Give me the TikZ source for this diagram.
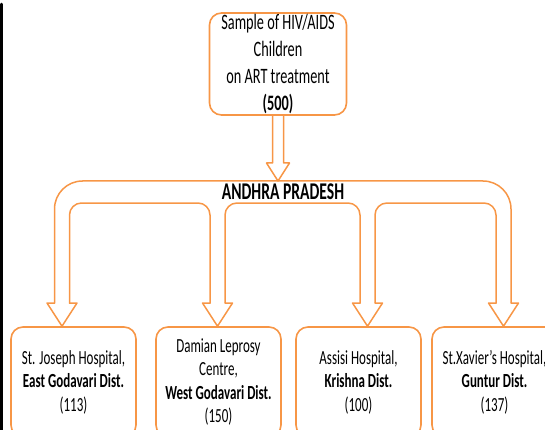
\documentclass[tikz,border=0pt]{standalone}
\usepackage{fontspec}
\setmainfont{Carlito}[FakeStretch=0.65]
\usetikzlibrary{calc}
\definecolor{apOrange}{HTML}{F79646}
\tikzset{
	hollow/.style={draw=apOrange,line width=1.5pt,line join=round,line cap=round},
	hbox/.style={draw=apOrange,line width=1.6pt,rounded corners=12pt,align=center,
		fill=white,inner sep=0pt},
	topbox/.style={hbox,minimum width=137,minimum height=102,font=\fontsize{22}{27}\selectfont},
	sitebox/.style={hbox,minimum width=125,minimum height=110,font=\fontsize{20}{23.5}\selectfont},
}
\begin{document}
\begin{tikzpicture}[x=1pt,y=-1pt,line join=round,line cap=round]
	\useasboundingbox (0,0) rectangle (545,430);
	\clip (0,0) rectangle (545,430);
	%thanh đen bên trái
	\draw[line width=2.5pt] (1.5,4)--(1.5,430);
	%các hộp
	\node[topbox] (sample) at (278,64) {Sample of HIV/AIDS\\Children\\on ART treatment\\\textbf{(500)}};
	\node[sitebox] (sj) at (73.5,382) {St. Joseph Hospital,\\\textbf{East Godavari Dist.}\\(113)};
	\node[sitebox] (dl) at (218.5,382) {Damian Leprosy\\Centre,\\\textbf{West Godavari Dist.}\\(150)};
	\node[sitebox] (as) at (358.5,382) {Assisi Hospital,\\\textbf{Krishna Dist.}\\(100)};
	\node[sitebox] (sx) at (494.5,382) {St.Xavier’s Hospital,\\\textbf{Guntur Dist.}\\(137)};
	%mũi tên rỗng từ trên xuống
	\coordinate (ap) at (sample.south |- 0,181);
	\draw[hollow] ($(sample.south)+(-5.5,0)$)--($(ap)+(-5.5,-18)$)--($(ap)+(-11.5,-18)$)--(ap)
		--($(ap)+(11.5,-18)$)--($(ap)+(5.5,-18)$)--($(sample.south)+(5.5,0)$);
	%dải Andhra Pradesh
	\draw[hollow,rounded corners=28pt] (54.5,303)--(54.5,181)--(511,181)--(511,303);
	\draw[hollow,rounded corners=12pt] (69.5,303)--(69.5,203)--(210,203)--(210,303);
	\draw[hollow,rounded corners=12pt] (225,303)--(225,203)--(360,203)--(360,303);
	\draw[hollow,rounded corners=12pt] (375,303)--(375,203)--(496,203)--(496,303);
	\node[font=\fontsize{24}{26}\selectfont\bfseries,anchor=base,inner sep=0pt] (apl) at (283,200) {ANDHRA PRADESH};
	\foreach \c/\b in {62/sj,217.5/dl,367.5/as,503.5/sx}{
		\draw[hollow] (\c-7.5,303)--(\c-15,303)--(\c,0 |- \b.north)--(\c+15,303)--(\c+7.5,303);}
\end{tikzpicture}
\end{document}
